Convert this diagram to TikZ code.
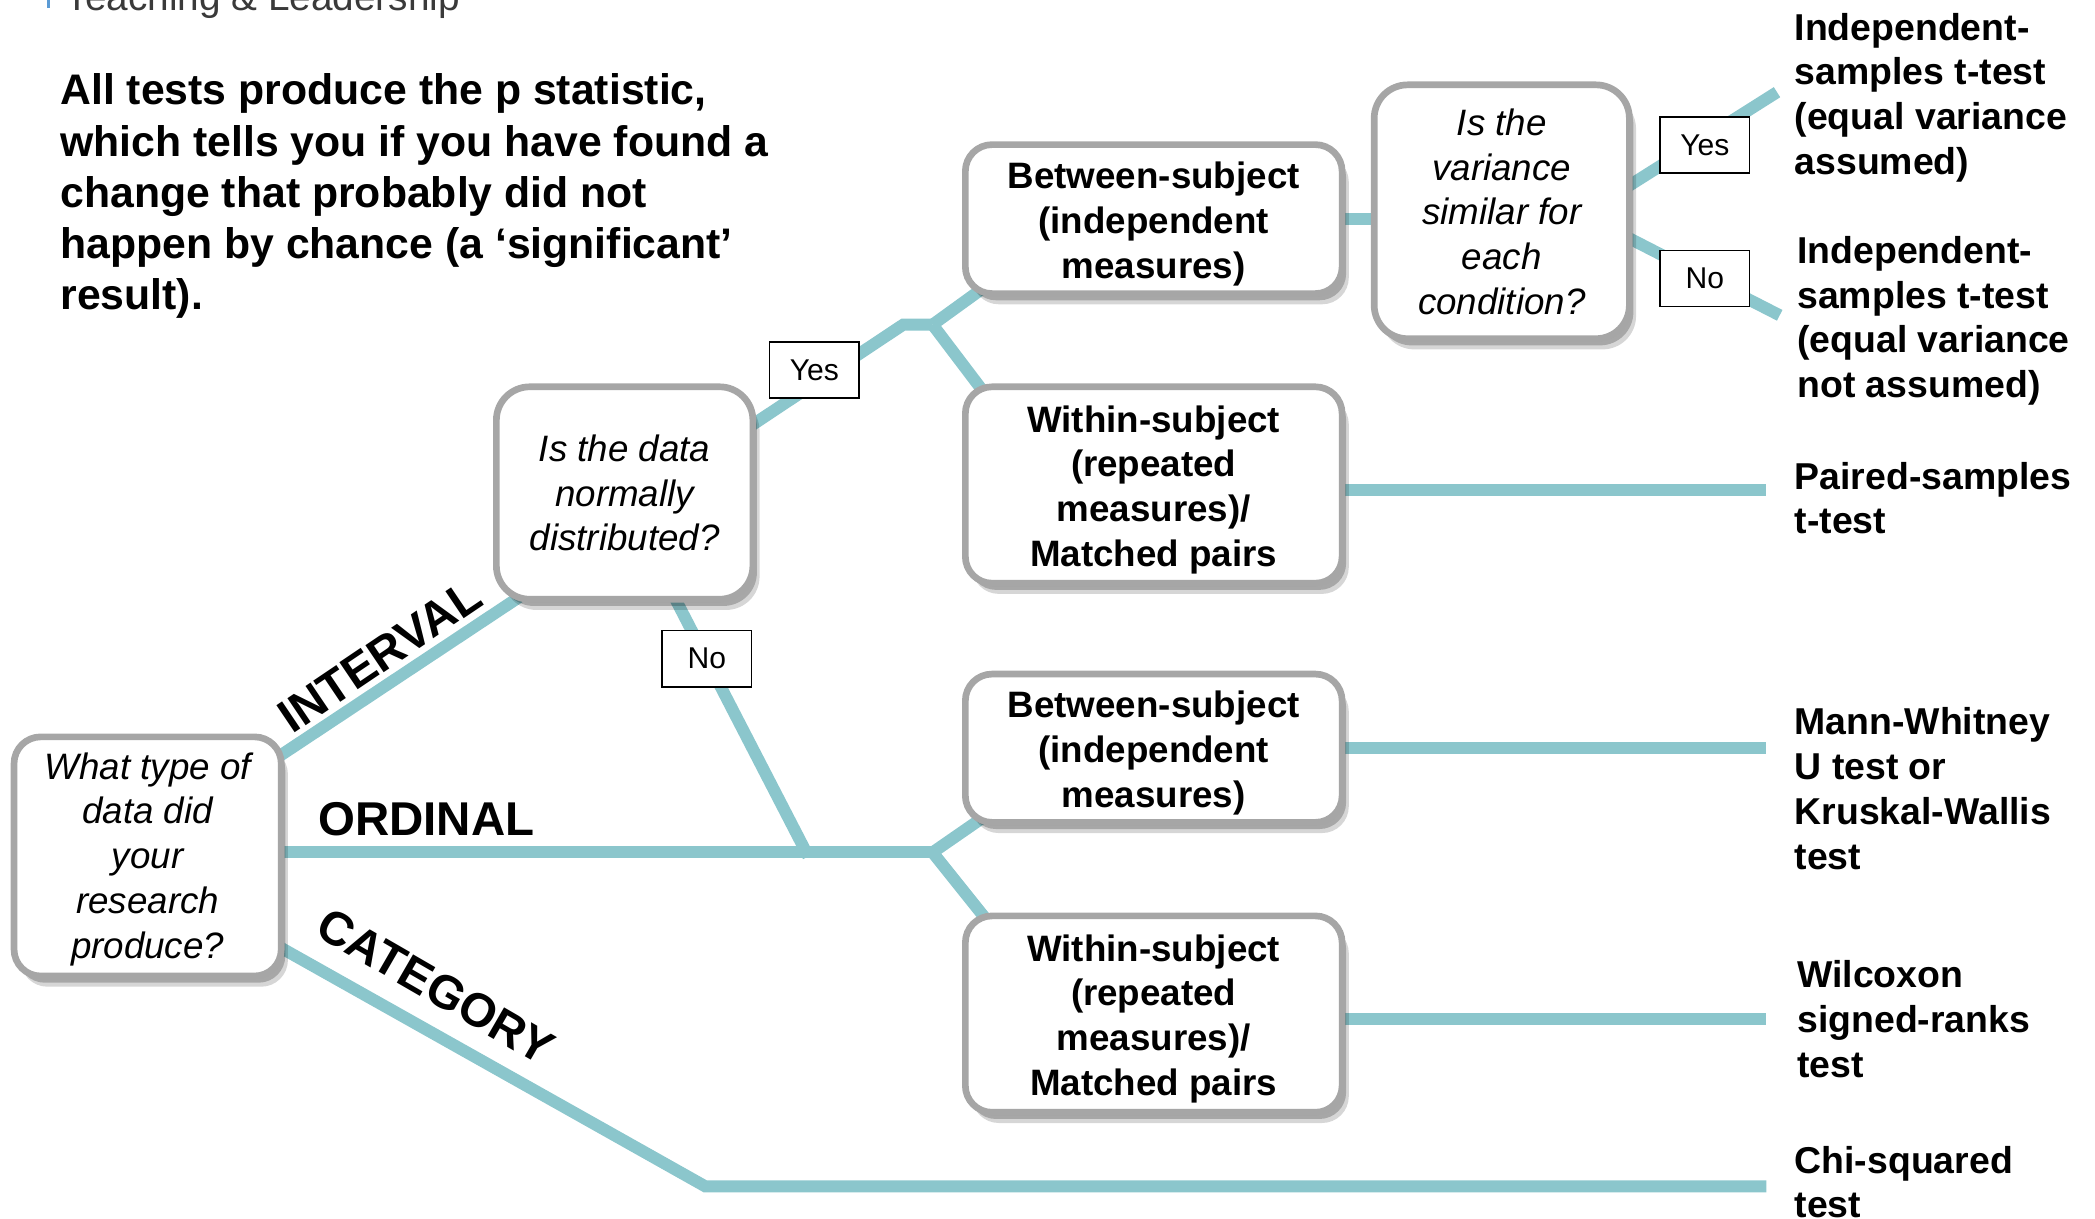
\documentclass[tikz,border=0pt]{standalone}
\usepackage{fontspec}
\setmainfont{Liberation Sans}
\usetikzlibrary{shadows,calc}
\definecolor{teal2}{HTML}{8BC6CC}
\definecolor{boxgray}{HTML}{A6A6A6}
\definecolor{hdrgray}{HTML}{3A3A3A}
\definecolor{hdrblue}{HTML}{5B9BD5}
\pgfdeclarelayer{background}
\pgfsetlayers{background,main}
\newcommand{\qfont}{\fontsize{27.5}{33.5}\selectfont\itshape}
\newcommand{\bxfont}{\fontsize{27.5}{33.5}\selectfont\bfseries}
\newcommand{\bxstrut}{\rule{0pt}{27pt}}
\newcommand{\qstrut}{\rule{0pt}{24pt}}
\begin{document}
\begin{tikzpicture}[x=1pt,y=-1pt,
  conn/.style={draw=teal2, line width=9pt},
  qbox/.style={draw=boxgray, line width=5pt, fill=white, rounded corners=20pt,
    inner sep=0pt, align=center,
    drop shadow={shadow xshift=5pt, shadow yshift=-8pt, opacity=0.16, fill=black},
    drop shadow={shadow xshift=3pt, shadow yshift=-5pt, opacity=0.22, fill=black}},
  lbl/.style={draw=black, line width=1.2pt, fill=white, minimum width=67pt,
    minimum height=42pt, inner sep=0pt, font=\fontsize{22.5}{27}\selectfont},
  res/.style={anchor=base west, inner sep=0pt, font=\fontsize{28}{33.6}\selectfont\bfseries},
  branch/.style={inner sep=0pt, font=\fontsize{35.5}{40}\selectfont\bfseries}
]
\useasboundingbox (0,0) rectangle (1568,912);
\clip (0,0) rectangle (1568,912);

% header (cut off at top)
\fill[hdrblue] (35.5,-2) rectangle (37.5,6);
\node[anchor=base west, inner sep=0pt, text=hdrgray, font=\fontsize{29}{34}\selectfont] (hdr) at (49,7.5) {Teaching \& Leadership};

% main text
\node[anchor=base west, inner sep=0pt, font=\fontsize{32}{38.3}\selectfont\bfseries] (intro) at (45,78.5)
  {\begin{tabular}[t]{@{}l@{}}All tests produce the p statistic,\\which tells you if you have found a\\change that probably did not\\happen by chance (a ‘significant’\\result).\end{tabular}};

% question / category boxes
\node[qbox, font=\qfont, minimum width=200pt, minimum height=179pt] (A) at (110.5,641)
  {\qstrut What type of\\data did\\your\\research\\produce?};
\node[qbox, font=\qfont, rounded corners=25pt, minimum width=192pt, minimum height=159pt] (B) at (467.5,369)
  {Is the data\\normally\\distributed?};
\node[qbox, font=\bxfont, minimum width=282pt, minimum height=111.5pt] (C) at (863.5,164)
  {\bxstrut Between-subject\\(independent\\measures)};
\node[qbox, font=\bxfont, minimum width=282pt, minimum height=147pt] (D) at (863.5,363)
  {\bxstrut Within-subject\\(repeated\\measures)/\\Matched pairs};
\node[qbox, font=\bxfont, minimum width=282pt, minimum height=111pt] (E) at (863.5,560)
  {\bxstrut Between-subject\\(independent\\measures)};
\node[qbox, font=\bxfont, minimum width=282pt, minimum height=147pt] (F) at (863.5,759)
  {\bxstrut Within-subject\\(repeated\\measures)/\\Matched pairs};
\node[qbox, font=\qfont, rounded corners=25pt, minimum width=191pt, minimum height=190pt] (G) at (1124,158.5)
  {Is the\\variance\\similar for\\each\\condition?};

% result texts
\node[res] (r1) at (1343,30) {\begin{tabular}[t]{@{}l@{}}Independent-\\samples t-test\\(equal variance\\assumed)\end{tabular}};
\node[res] (r2) at (1345,197) {\begin{tabular}[t]{@{}l@{}}Independent-\\samples t-test\\(equal variance\\not assumed)\end{tabular}};
\node[res] (r3) at (1343,366) {\begin{tabular}[t]{@{}l@{}}Paired-samples\\t-test\end{tabular}};
\node[res] (r4) at (1343,550) {\begin{tabular}[t]{@{}l@{}}Mann-Whitney\\U test or\\Kruskal-Wallis\\test\end{tabular}};
\node[res] (r5) at (1345,739) {\begin{tabular}[t]{@{}l@{}}Wilcoxon\\signed-ranks\\test\end{tabular}};
\node[res] (r6) at (1343,878) {\begin{tabular}[t]{@{}l@{}}Chi-squared\\test\end{tabular}};

% branch labels
\node[branch, rotate=34] (lInt) at (284,491) {INTERVAL};
\node[branch, anchor=base west] (lOrd) at (238,625) {ORDINAL};
\node[branch, rotate=-30] (lCat) at (326,738) {CATEGORY};

% yes/no labels
\node[lbl] (y1) at (609.5,277) {Yes};
\node[lbl] (n1) at (529,493) {No};
\node[lbl] (y2) at (1276,108.5) {Yes};
\node[lbl] (n2) at (1276,208.5) {No};

% connectors
\begin{pgfonlayer}{background}
  \coordinate (aI) at (190,578.6);
  \coordinate (bI) at (410,432.7);
  \coordinate (jO) at (698,638);
  \coordinate (aC) at (190,698);
  \coordinate (cC) at (528,888);
  \coordinate (eC) at (1322,888);
  \coordinate (bN) at (495,428);
  \coordinate (jN) at (605,641);
  \coordinate (bY) at (545,330);
  \coordinate (jY0) at (676,243);
  \coordinate (jY) at (698,243);
  \coordinate (cIn) at (745,209);
  \coordinate (dIn) at (745,305);
  \coordinate (eIn) at (750,602);
  \coordinate (fIn) at (750,703);
  \coordinate (gY) at (1205,148);
  \coordinate (eYes) at (1330,69);
  \coordinate (gN) at (1205,171);
  \coordinate (eNo) at (1332,236);
  \coordinate (rD) at (1322,367);
  \coordinate (rE) at (1322,560);
  \coordinate (rF) at (1322,763);

  \draw[conn] (aI) -- (bI);
  \draw[conn] (A |- jO) -- (jO);
  \draw[conn, line join=miter] (aC) -- (cC) -- (eC);
  \draw[conn] (bN) -- (jN);
  \draw[conn, line join=miter] (bY) -- (jY0) -- (jY);
  \draw[conn] (jY) -- (cIn);
  \draw[conn] (jY) -- (dIn);
  \draw[conn] (jO) -- (eIn);
  \draw[conn] (jO) -- (fIn);
  \draw[conn] (C) -- (C -| G);
  \draw[conn] (gY) -- (eYes);
  \draw[conn] (gN) -- (eNo);
  \draw[conn] (D |- rD) -- (rD);
  \draw[conn] (E) -- (rE);
  \draw[conn] (F |- rF) -- (rF);
\end{pgfonlayer}
\end{tikzpicture}
\end{document}
